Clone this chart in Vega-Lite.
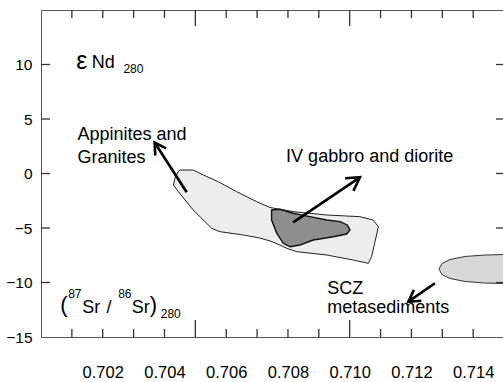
{
  "$schema": "https://vega.github.io/schema/vega-lite/v6.json",
  "width": 462,
  "height": 327,
  "autosize": {"type": "none"},
  "padding": {"left": 41, "top": 10, "right": 0, "bottom": 45},
  "config": {
    "view": {"stroke": null},
    "axis": {"grid": false, "title": null}
  },
  "datasets": {
    "minorTicks": [{"v":0.701},{"v":0.702},{"v":0.703},{"v":0.704},{"v":0.706},{"v":0.707},{"v":0.708},{"v":0.709},{"v":0.711},{"v":0.712},{"v":0.713},{"v":0.714}],
    "majorTicks": [{"v":0.705},{"v":0.71}],
    "yTicks": [{"v":-10},{"v":-5},{"v":0},{"v":5},{"v":10}]
  },
  "resolve": {"axis": {"x": "independent", "y": "independent"}},
  "layer": [
    {
      "data": {"values": [
        {"x":0.70450,"y":0.32,"i":1},{"x":0.70493,"y":0.32,"i":2},{"x":0.70526,"y":-0.14,"i":3},{"x":0.70574,"y":-0.75,"i":4},
        {"x":0.70634,"y":-1.67,"i":5},{"x":0.70699,"y":-2.59,"i":6},{"x":0.70742,"y":-3.12,"i":7},{"x":0.70817,"y":-3.50,"i":8},
        {"x":0.70926,"y":-3.81,"i":9},{"x":0.71033,"y":-3.96,"i":10},{"x":0.71076,"y":-4.27,"i":11},{"x":0.71093,"y":-4.88,"i":12},
        {"x":0.71082,"y":-6.26,"i":13},{"x":0.71071,"y":-7.63,"i":14},{"x":0.71060,"y":-8.24,"i":15},{"x":0.71012,"y":-7.94,"i":16},
        {"x":0.70926,"y":-7.48,"i":17},{"x":0.70828,"y":-7.17,"i":18},{"x":0.70796,"y":-6.86,"i":19},{"x":0.70774,"y":-6.56,"i":20},
        {"x":0.70742,"y":-6.19,"i":21},{"x":0.70709,"y":-5.92,"i":22},{"x":0.70655,"y":-5.64,"i":23},{"x":0.70580,"y":-5.34,"i":24},
        {"x":0.70553,"y":-5.03,"i":25},{"x":0.70493,"y":-3.35,"i":26},{"x":0.70445,"y":-1.67,"i":27},{"x":0.70429,"y":-1.06,"i":28},
        {"x":0.70434,"y":-0.41,"i":29},{"x":0.70444,"y":0.14,"i":30}
      ]},
      "mark": {"type": "line", "interpolate": "linear-closed", "fill": "#ededed", "stroke": "#222", "strokeWidth": 1},
      "encoding": {
        "x": {"field": "x", "type": "quantitative", "scale": {"domain": [0.7, 0.714966], "nice": false, "zero": false}, "axis": null},
        "y": {"field": "y", "type": "quantitative", "scale": {"domain": [-15, 15], "nice": false, "zero": false}, "axis": null},
        "order": {"field": "i", "type": "quantitative"}
      }
    },
    {
      "data": {"values": [
        {"x":0.70747,"y":-3.35,"i":1},{"x":0.70774,"y":-3.28,"i":2},{"x":0.70817,"y":-3.65,"i":3},{"x":0.70871,"y":-3.96,"i":4},
        {"x":0.70926,"y":-4.27,"i":5},{"x":0.70969,"y":-4.42,"i":6},{"x":0.70992,"y":-4.72,"i":7},{"x":0.71001,"y":-5.18,"i":8},
        {"x":0.70990,"y":-5.55,"i":9},{"x":0.70947,"y":-5.80,"i":10},{"x":0.70882,"y":-6.10,"i":11},{"x":0.70839,"y":-6.56,"i":12},
        {"x":0.70807,"y":-6.72,"i":13},{"x":0.70785,"y":-6.40,"i":14},{"x":0.70764,"y":-5.49,"i":15},{"x":0.70747,"y":-4.27,"i":16}
      ]},
      "mark": {"type": "line", "interpolate": "linear-closed", "fill": "#8e8e8e", "stroke": "#111", "strokeWidth": 1.4},
      "encoding": {
        "x": {"field": "x", "type": "quantitative", "scale": {"domain": [0.7, 0.714966], "nice": false, "zero": false}, "axis": null},
        "y": {"field": "y", "type": "quantitative", "scale": {"domain": [-15, 15], "nice": false, "zero": false}, "axis": null},
        "order": {"field": "i", "type": "quantitative"}
      }
    },
    {
      "data": {"values": [
        {"x":0.71289,"y":-8.76,"i":1},{"x":0.71299,"y":-8.26,"i":2},{"x":0.71325,"y":-7.89,"i":3},{"x":0.71374,"y":-7.61,"i":4},
        {"x":0.71438,"y":-7.48,"i":5},{"x":0.71503,"y":-7.43,"i":6},{"x":0.71584,"y":-7.43,"i":7},{"x":0.71584,"y":-10.09,"i":8},
        {"x":0.71503,"y":-10.09,"i":9},{"x":0.71438,"y":-10.05,"i":10},{"x":0.71374,"y":-9.91,"i":11},{"x":0.71325,"y":-9.63,"i":12},
        {"x":0.71299,"y":-9.27,"i":13}
      ]},
      "mark": {"type": "line", "interpolate": "linear-closed", "fill": "#d8d8d8", "stroke": "#333", "strokeWidth": 1},
      "encoding": {
        "x": {"field": "x", "type": "quantitative", "scale": {"domain": [0.7, 0.714966], "nice": false, "zero": false},
          "axis": {"orient": "bottom", "values": [0.702,0.704,0.706,0.708,0.71,0.712,0.714], "format": ".3f",
            "labels": true, "domain": true, "ticks": false, "labelPadding": 27, "labelFontSize": 16.5,
            "domainColor": "#555", "labelColor": "#000", "labelFont": "Liberation Sans"}},
        "y": {"field": "y", "type": "quantitative", "scale": {"domain": [-15, 15], "nice": false, "zero": false},
          "axis": {"orient": "left", "values": [-15,-10,-5,0,5,10], "labels": true, "domain": true, "ticks": false, "labelPadding": 9, "labelFontSize": 15.5,
            "domainColor": "#555", "labelColor": "#000", "labelFont": "Liberation Sans"}},
        "order": {"field": "i", "type": "quantitative"}
      }
    },
    {
      "data": {"name": "minorTicks"},
      "mark": {"type": "rule", "color": "#333", "strokeWidth": 1.3},
      "encoding": {
        "x": {"field": "v", "type": "quantitative", "scale": {"domain": [0.7, 0.714966], "nice": false, "zero": false}, "axis": null},
        "y": {"datum": -15, "type": "quantitative", "scale": {"domain": [-15, 15], "nice": false, "zero": false}, "axis": null},
        "y2": {"datum": -14.27}
      }
    },
    {
      "data": {"name": "minorTicks"},
      "mark": {"type": "rule", "color": "#333", "strokeWidth": 1.3},
      "encoding": {
        "x": {"field": "v", "type": "quantitative", "scale": {"domain": [0.7, 0.714966], "nice": false, "zero": false}, "axis": null},
        "y": {"datum": 15, "type": "quantitative", "scale": {"domain": [-15, 15], "nice": false, "zero": false}, "axis": null},
        "y2": {"datum": 14.27}
      }
    },
    {
      "data": {"name": "majorTicks"},
      "mark": {"type": "rule", "color": "#333", "strokeWidth": 1.3},
      "encoding": {
        "x": {"field": "v", "type": "quantitative", "scale": {"domain": [0.7, 0.714966], "nice": false, "zero": false}, "axis": null},
        "y": {"datum": -15, "type": "quantitative", "scale": {"domain": [-15, 15], "nice": false, "zero": false}, "axis": null},
        "y2": {"datum": -13.44}
      }
    },
    {
      "data": {"name": "majorTicks"},
      "mark": {"type": "rule", "color": "#333", "strokeWidth": 1.3},
      "encoding": {
        "x": {"field": "v", "type": "quantitative", "scale": {"domain": [0.7, 0.714966], "nice": false, "zero": false}, "axis": null},
        "y": {"datum": 15, "type": "quantitative", "scale": {"domain": [-15, 15], "nice": false, "zero": false}, "axis": null},
        "y2": {"datum": 13.53}
      }
    },
    {
      "data": {"name": "yTicks"},
      "mark": {"type": "rule", "color": "#333", "strokeWidth": 1.3},
      "encoding": {
        "y": {"field": "v", "type": "quantitative", "scale": {"domain": [-15, 15], "nice": false, "zero": false}, "axis": null},
        "x": {"datum": 0.7, "type": "quantitative", "scale": {"domain": [0.7, 0.714966], "nice": false, "zero": false}, "axis": null},
        "x2": {"datum": 0.70029}
      }
    },
    {
      "data": {"name": "yTicks"},
      "mark": {"type": "rule", "color": "#333", "strokeWidth": 1.3},
      "encoding": {
        "y": {"field": "v", "type": "quantitative", "scale": {"domain": [-15, 15], "nice": false, "zero": false}, "axis": null},
        "x": {"datum": 0.71474, "type": "quantitative", "scale": {"domain": [0.7, 0.714966], "nice": false, "zero": false}, "axis": null},
        "x2": {"datum": 0.714966}
      }
    },
    {
      "mark": {"type": "rule", "color": "#666", "strokeWidth": 1},
      "encoding": {"y": {"datum": 0, "type": "quantitative", "scale": {"domain": [-15, 15], "nice": false, "zero": false}, "axis": null}}
    },
    {
      "data": {"values": [
        {"x":0.70472,"y":-1.72,"seg":"a1","i":1},{"x":0.70368,"y":2.84,"seg":"a1","i":2},
        {"x":0.70370,"y":1.65,"seg":"h1","i":1},{"x":0.70368,"y":2.84,"seg":"h1","i":2},{"x":0.70405,"y":2.30,"seg":"h1","i":3},
        {"x":0.70817,"y":-4.48,"seg":"a2","i":1},{"x":0.71033,"y":-0.35,"seg":"a2","i":2},
        {"x":0.70985,"y":-0.44,"seg":"h2","i":1},{"x":0.71033,"y":-0.35,"seg":"h2","i":2},{"x":0.71012,"y":-1.59,"seg":"h2","i":3},
        {"x":0.71276,"y":-10.07,"seg":"a3","i":1},{"x":0.71190,"y":-11.76,"seg":"a3","i":2},
        {"x":0.71232,"y":-11.67,"seg":"h3","i":1},{"x":0.71190,"y":-11.76,"seg":"h3","i":2},{"x":0.71208,"y":-10.68,"seg":"h3","i":3}
      ]},
      "mark": {"type": "line", "color": "#000", "strokeWidth": 2.6, "strokeJoin": "miter"},
      "encoding": {
        "x": {"field": "x", "type": "quantitative", "scale": {"domain": [0.7, 0.714966], "nice": false, "zero": false}, "axis": null},
        "y": {"field": "y", "type": "quantitative", "scale": {"domain": [-15, 15], "nice": false, "zero": false}, "axis": null},
        "detail": {"field": "seg"},
        "order": {"field": "i", "type": "quantitative"}
      }
    },
    {
      "data": {"values": [
        {"x":0.70164,"y":9.65,"t":"Nd"},
        {"x":0.70118,"y":3.07,"t":"Appinites and"},
        {"x":0.70118,"y":0.94,"t":"Granites"},
        {"x":0.70794,"y":1.08,"t":"IV gabbro and diorite"},
        {"x":0.70927,"y":-11.08,"t":"SCZ"},
        {"x":0.70927,"y":-12.83,"t":"metasediments"},
        {"x":0.70134,"y":-12.83,"t":"Sr"},
        {"x":0.70212,"y":-12.83,"t":"/"},
        {"x":0.70294,"y":-12.83,"t":"Sr"}
      ]},
      "mark": {"type": "text", "align": "left", "baseline": "alphabetic", "fontSize": 18, "font": "Liberation Sans", "color": "#000"},
      "encoding": {
        "x": {"field": "x", "type": "quantitative", "scale": {"domain": [0.7, 0.714966], "nice": false, "zero": false},
          "axis": {"orient": "top", "labels": false, "domain": true, "ticks": false, "domainColor": "#555"}},
        "y": {"field": "y", "type": "quantitative", "scale": {"domain": [-15, 15], "nice": false, "zero": false}, "axis": null},
        "text": {"field": "t"}
      }
    },
    {
      "data": {"values": [
        {"x":0.70267,"y":9.25,"t":"280"},
        {"x":0.70088,"y":-11.45,"t":"87"},
        {"x":0.70250,"y":-11.45,"t":"86"},
        {"x":0.70388,"y":-13.28,"t":"280"}
      ]},
      "mark": {"type": "text", "align": "left", "baseline": "alphabetic", "fontSize": 12, "font": "Liberation Sans", "color": "#000"},
      "encoding": {
        "x": {"field": "x", "type": "quantitative", "scale": {"domain": [0.7, 0.714966], "nice": false, "zero": false}, "axis": null},
        "y": {"field": "y", "type": "quantitative", "scale": {"domain": [-15, 15], "nice": false, "zero": false}, "axis": null},
        "text": {"field": "t"}
      }
    },
    {
      "data": {"values": [
        {"x":0.70062,"y":-12.71,"t":"("},
        {"x":0.70352,"y":-12.71,"t":")"}
      ]},
      "mark": {"type": "text", "align": "left", "baseline": "alphabetic", "fontSize": 22, "font": "Liberation Sans", "color": "#000"},
      "encoding": {
        "x": {"field": "x", "type": "quantitative", "scale": {"domain": [0.7, 0.714966], "nice": false, "zero": false}, "axis": null},
        "y": {"field": "y", "type": "quantitative", "scale": {"domain": [-15, 15], "nice": false, "zero": false}, "axis": null},
        "text": {"field": "t"}
      }
    },
    {
      "data": {"values": [
        {"x":0.70114,"y":9.63,"t":"ε"}
      ]},
      "mark": {"type": "text", "align": "left", "baseline": "alphabetic", "fontSize": 25, "font": "Liberation Sans", "color": "#000"},
      "encoding": {
        "x": {"field": "x", "type": "quantitative", "scale": {"domain": [0.7, 0.714966], "nice": false, "zero": false}, "axis": null},
        "y": {"field": "y", "type": "quantitative", "scale": {"domain": [-15, 15], "nice": false, "zero": false}, "axis": null},
        "text": {"field": "t"}
      }
    }
  ]
}
